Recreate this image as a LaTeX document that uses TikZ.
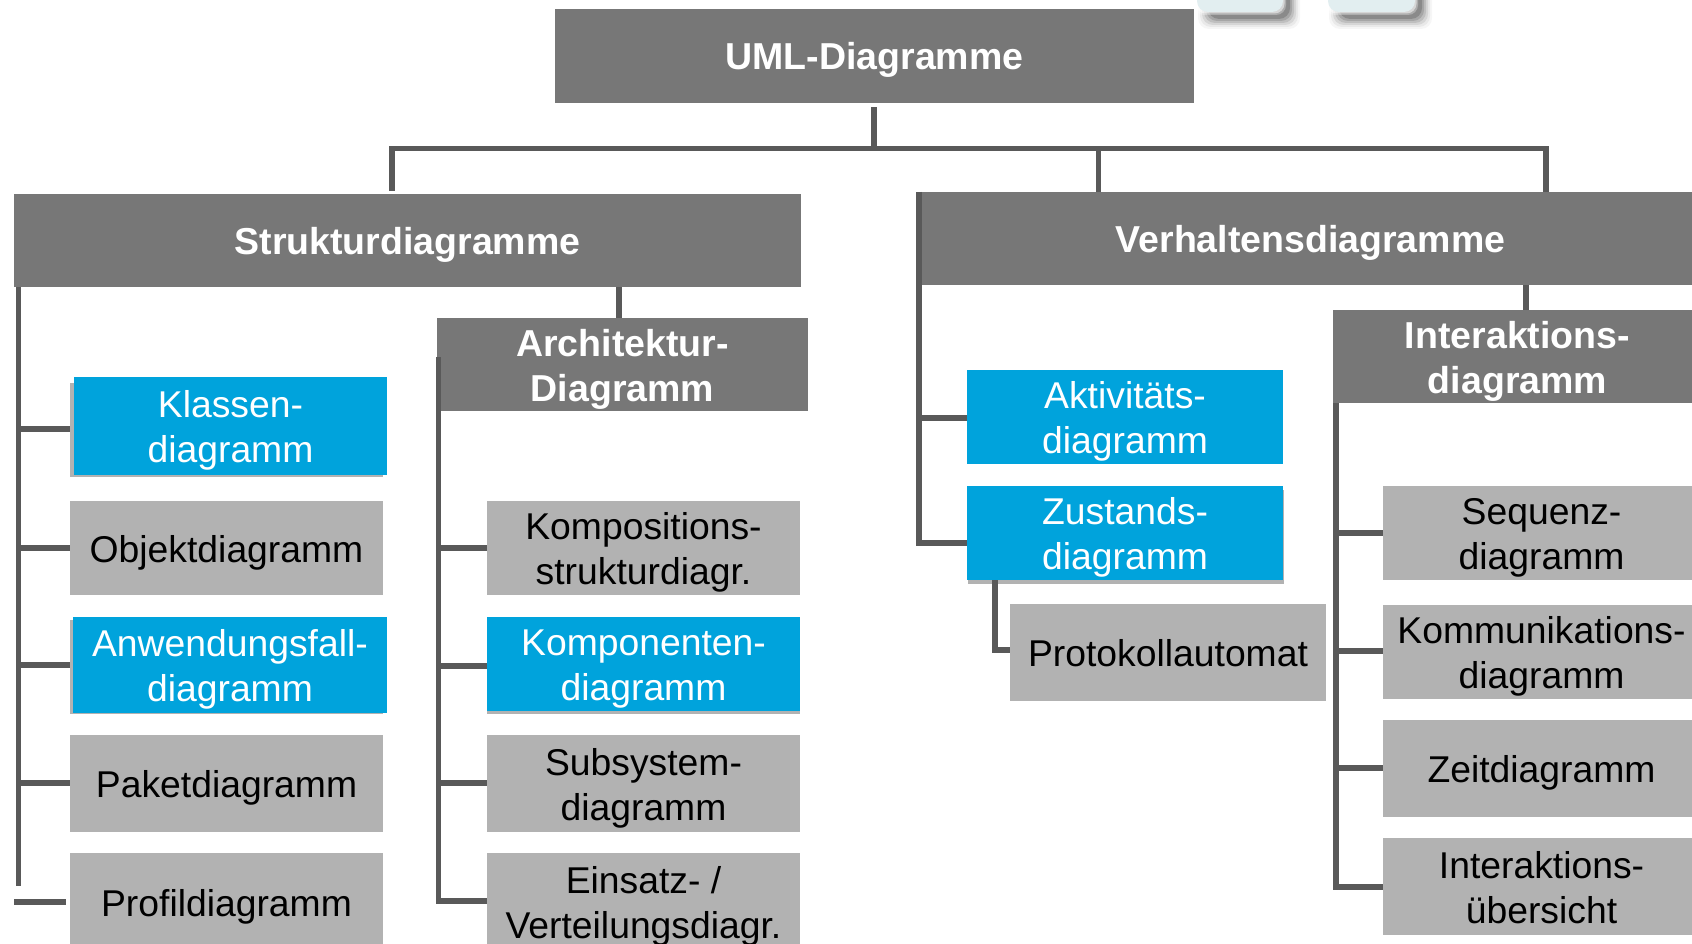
\documentclass[tikz,border=0pt]{standalone}
\usepackage{fontspec}
\setmainfont{Liberation Sans}
\definecolor{hdr}{HTML}{777777}
\definecolor{lgrey}{HTML}{B2B2B2}
\definecolor{lblue}{HTML}{00A3DC}
\definecolor{conn}{HTML}{595959}
\newcommand\mystrut{\rule[-8.5pt]{0pt}{45pt}}
\newcommand\one[1]{\mystrut #1}
\newcommand\two[2]{\mystrut #1\\#2\mystrut}
% name, x1, y1, x2, y2, style, text
\newcommand\bx[7]{\node[#6,anchor=north west,minimum width={#4-#2},minimum height={#5-#3}] (#1) at (#2,#3) {#7};}
\tikzset{
  base/.style={inner sep=0pt,outer sep=0pt,align=center,font=\fontsize{37.3}{45}\selectfont},
  header/.style={base,fill=hdr,text=white,font=\fontsize{37.5}{45}\selectfont\bfseries},
  greybox/.style={base,fill=lgrey,text=black},
  bluebox/.style={base,fill=lblue,text=white},
  backing/.style={base,fill=lgrey},
  link/.style={draw=conn,line width=5.4pt,line cap=butt,line join=miter},
}
\begin{document}
\begin{tikzpicture}[x=1pt,y=-1pt]
\useasboundingbox (0,0) rectangle (1692,944);
% window fragments at the top edge
\foreach \xa/\xb in {1197/1283,1328/1415}{
  \foreach \g/\o in {8/.05,6/.08,4/.12,2/.16,0/.22,-2/.3}
    \fill[black!70,opacity=\o,rounded corners=11pt] (\xa+9-\g,-20) rectangle (\xb+9+\g,21+\g);
  \foreach \g/\o in {3/.3,1.5/.5}
    \fill[white,opacity=\o,rounded corners=10pt] (\xa-\g,-20) rectangle (\xb+\g,12+\g);
  \fill[fill={rgb,255:red,226;green,238;blue,240},rounded corners=11pt] (\xa,-20) rectangle (\xb,12);
}
% headers
\bx{uml}{555}{9}{1194}{103}{header}{\one{UML-Diagramme}}
\bx{struktur}{14}{194}{801}{287}{header}{\one{Strukturdiagramme}}
\bx{verhalten}{917}{192}{1704}{285}{header}{\one{Verhaltensdiagramme}}
\bx{architektur}{437}{318}{808}{411}{header}{\two{Architektur-}{Diagramm}}
\bx{interaktion}{1333}{310}{1702}{403}{header}{\two{Interaktions-}{diagramm}}
% left column
\bx{klassenS}{70}{383}{383}{477}{backing}{}
\bx{klassen}{74}{377}{387}{475}{bluebox}{\two{Klassen-}{diagramm}}
\bx{objekt}{70}{501}{383}{595}{greybox}{\one{Objektdiagramm}}
\bx{anwendungS}{70}{620}{383}{714}{backing}{}
\bx{anwendung}{73}{617}{387}{713}{bluebox}{\two{Anwendungsfall-}{diagramm}}
\bx{paket}{70}{735}{383}{832}{greybox}{\one{Paketdiagramm}}
\bx{profil}{70}{853}{383}{952}{greybox}{\one{Profildiagramm}}
% middle column
\bx{kompo}{487}{501}{800}{595}{greybox}{\two{Kompositions-}{strukturdiagr.}}
\bx{komponentenS}{487}{620}{800}{714}{backing}{}
\bx{komponenten}{487}{617}{800}{711}{bluebox}{\two{Komponenten-}{diagramm}}
\bx{subsystem}{487}{735}{800}{832}{greybox}{\two{Subsystem-}{diagramm}}
\bx{einsatz}{487}{853}{800}{950}{greybox}{\two{Einsatz- /}{Verteilungsdiagr.}}
% behaviour column
\bx{aktiv}{967}{370}{1283}{464}{bluebox}{\two{Aktivitäts-}{diagramm}}
\bx{zustandS}{968}{490}{1284}{584}{backing}{}
\bx{zustand}{967}{486}{1283}{580}{bluebox}{\two{Zustands-}{diagramm}}
\bx{protokoll}{1010}{604}{1326}{701}{greybox}{\one{Protokollautomat}}
% interaction column
\bx{sequenz}{1383}{486}{1700}{580}{greybox}{\two{Sequenz-}{diagramm}}
\bx{kommunikation}{1383}{605}{1700}{699}{greybox}{\two{Kommunikations-}{diagramm}}
\bx{zeit}{1383}{720}{1700}{817}{greybox}{\one{Zeitdiagramm}}
\bx{uebersicht}{1383}{838}{1700}{935}{greybox}{\two{Interaktions-}{übersicht}}
% junctions
\coordinate (busL) at (392,148.5);
\coordinate (busM) at (874,148.5);
\coordinate (busC) at (1098.5,148.5);
\coordinate (busR) at (1546,148.5);
% top tree
\draw[link] ([xshift=-2.7pt]busL) -- ([xshift=2.7pt]busR);
\draw[link] (busM) -- (busM |- 0,107);
\draw[link] (busL) -- (busL |- 0,191);
\draw[link] (busC) -- (busC |- verhalten.north);
\draw[link] (busR) -- (busR |- verhalten.north);
\draw[link] (619,0 |- struktur.south) -- (619,0 |- architektur.north);
\draw[link] (1526,0 |- verhalten.south) -- (1526,0 |- interaktion.north);
% left spine
\coordinate (sL) at (18.7,287);
\draw[link] (sL) -- (18.7,886);
\draw[link] (16,429) -- (16,429 -| klassenS.west);
\draw[link] (16,548) -- (16,548 -| objekt.west);
\draw[link] (16,665) -- (16,665 -| anwendungS.west);
\draw[link] (16,783) -- (16,783 -| paket.west);
\coordinate (profilEnd) at (14,902);
\draw[link] (profilEnd) -- (66,902);
% architecture spine
\coordinate (sA) at (438.5,357);
\draw[link] (sA) -- (438.5,903.7);
\draw[link] (438.5,548) -- (438.5,548 -| kompo.west);
\draw[link] (438.5,666) -- (438.5,666 -| komponenten.west);
\draw[link] (438.5,783) -- (438.5,783 -| subsystem.west);
\draw[link] (436,901) -- (436,901 -| einsatz.west);
% behaviour spine
\coordinate (sV) at (919,192);
\draw[link] (sV) -- (919,545.7);
\draw[link] (919,418) -- (919,418 -| aktiv.west);
\draw[link] (916.3,543) -- (916.3,543 -| zustand.west);
% protocol automaton
\draw[link] (995,0 |- zustand.south) -- (995,650) -- (995,650 -| protokoll.west);
% interaction spine
\coordinate (sI) at (1336,403);
\draw[link] (sI) -- (1336,889.7);
\draw[link] (1336,533) -- (1336,533 -| sequenz.west);
\draw[link] (1336,651) -- (1336,651 -| kommunikation.west);
\draw[link] (1336,768) -- (1336,768 -| zeit.west);
\draw[link] (1333.3,887) -- (1333.3,887 -| uebersicht.west);
\end{tikzpicture}
\end{document}
